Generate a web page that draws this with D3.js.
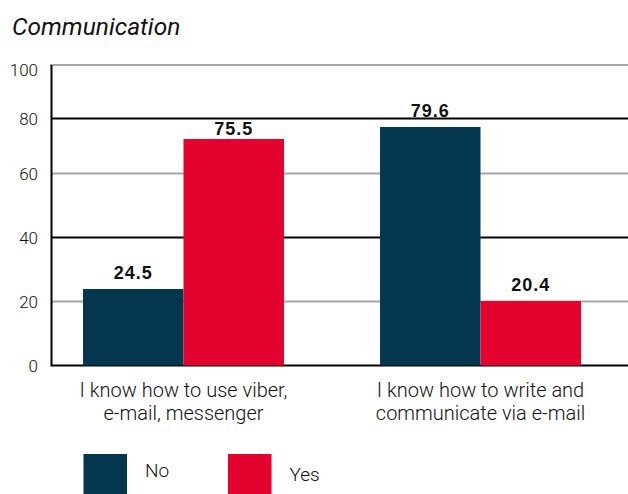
<!DOCTYPE html>
<html>
<head>
<meta charset="utf-8">
<script src="https://cdn.jsdelivr.net/npm/d3@7"></script>
<style>
  html, body { margin: 0; padding: 0; background: #fff; }
  svg { display: block; }
</style>
</head>
<body>
<svg id="chart" width="628" height="494"></svg>
<script>
const title = "Communication";
const categories = ["I know how to use viber, e-mail, messenger", "I know how to write and communicate via e-mail"];
const categoryLines = [["I know how to use viber,", "e-mail, messenger"], ["I know how to write and", "communicate via e-mail"]];
const series = ["No", "Yes"];
const noValues = [24.5, 79.6];
const yesValues = [75.5, 20.4];
const yTicks = [0, 20, 40, 60, 80, 100];
const colors = ["#02374f", "#e4032e"];

const svg = d3.select("#chart");
const lightFont = "Roboto, 'Open Sans', sans-serif";

// axis / grid scale (grid lines in the source are not evenly spaced)
const yAxis = d3.scaleLinear().domain(yTicks).range([365.5, 301.5, 237.5, 173.5, 118.5, 65]);
// bar scale
const yBar = d3.scaleLinear().domain([0, 100]).range([361, 67]);
const baseY = yAxis(0);

const x0 = d3.scaleBand().domain(categories).range([35, 629]);
const x1 = d3.scaleBand().domain(series).range([0, x0.bandwidth()]).paddingOuter(0.478);
const color = d3.scaleOrdinal().domain(series).range(colors);

// grid lines
svg.append("g").selectAll("line").data(yTicks).join("line")
  .attr("x1", d => d === 100 ? 50 : 52)
  .attr("x2", 628)
  .attr("y1", d => yAxis(d)).attr("y2", d => yAxis(d))
  .attr("stroke", d => (d % 40 === 0) ? "#000" : "#a6a6a6")
  .attr("stroke-width", 2);

// y axis line
svg.append("line").attr("x1", 51.5).attr("x2", 51.5)
  .attr("y1", yAxis(100)).attr("y2", baseY + 1)
  .attr("stroke", "#000").attr("stroke-width", 2);

// tick labels
const yAx = d3.axisLeft(yAxis).tickValues(yTicks).tickSize(0).tickPadding(0);
const gAx = svg.append("g").attr("transform", "translate(38,0)").call(yAx);
gAx.select(".domain").remove();
gAx.selectAll("text")
  .attr("font-family", lightFont).attr("font-weight", 300)
  .attr("font-size", 17).attr("fill", "#111")
  .attr("dy", d => d === 100 ? "0.6em" : "0.36em");

// bars
const rows = categories.map((c, i) => ({cat: c, vals: [
  {key: "No", value: noValues[i]}, {key: "Yes", value: yesValues[i]}]}));

const groups = svg.append("g").selectAll("g").data(rows).join("g")
  .attr("transform", d => `translate(${x0(d.cat)},0)`);

groups.selectAll("rect").data(d => d.vals).join("rect")
  .attr("x", d => x1(d.key))
  .attr("width", x1.bandwidth())
  .attr("y", d => yBar(d.value))
  .attr("height", d => baseY - yBar(d.value))
  .attr("fill", d => color(d.key));

groups.selectAll("text.val").data(d => d.vals).join("text")
  .attr("class", "val")
  .attr("x", d => x1(d.key) + x1.bandwidth() / 2)
  .attr("y", d => yBar(d.value) - (d.value === 75.5 ? 4 : 10))
  .attr("text-anchor", "middle")
  .attr("font-family", "'Liberation Sans', Arial, sans-serif")
  .attr("font-weight", "bold").attr("font-size", 18)
  .attr("letter-spacing", 1)
  .attr("fill", "#111")
  .text(d => d.value.toFixed(1));

// category labels
svg.append("g").selectAll("text").data(categories).join("text")
  .attr("x", d => x0(d) + x0.bandwidth() / 2)
  .attr("y", 396.5)
  .attr("text-anchor", "middle")
  .attr("font-family", lightFont).attr("font-weight", 300)
  .attr("font-size", 20).attr("fill", "#111")
  .each(function(d, i) {
    const t = d3.select(this);
    categoryLines[i].forEach((ln, j) => {
      t.append("tspan").attr("x", x0(d) + x0.bandwidth() / 2)
        .attr("dy", j === 0 ? 0 : 23.5).text(ln);
    });
  });

// title
svg.append("text").attr("x", 12).attr("y", 35)
  .attr("font-family", lightFont).attr("font-style", "italic")
  .attr("font-size", 24.5).attr("fill", "#111")
  .text(title);

// legend
const legendX = d3.scaleOrdinal().domain(series).range([83.5, 228]);
const legendTextY = {No: 477, Yes: 481};
const lg = svg.append("g").selectAll("g").data(series).join("g")
  .attr("transform", d => `translate(${legendX(d)},454)`);
lg.append("rect").attr("width", 43.5).attr("height", 41).attr("fill", d => color(d));
lg.append("text").attr("x", 61.5).attr("y", d => legendTextY[d] - 454)
  .attr("font-family", lightFont).attr("font-weight", 300)
  .attr("font-size", 19).attr("fill", "#111")
  .text(d => d);
</script>
</body>
</html>
